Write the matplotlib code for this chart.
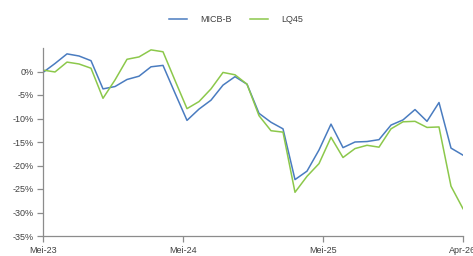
import numpy as np
from matplotlib import pyplot as plt

plt.rcParams['font.family'] = ['Liberation Sans', 'DejaVu Sans']

# monthly returns, Mei-23 .. Apr-26 (percent)
micb = [-0.2, 1.7, 3.75, 3.3, 2.3, -3.7, -3.2, -1.7, -1.0, 1.0, 1.3, -4.6,
        -10.4, -8.0, -6.1, -2.9, -1.1, -2.7, -8.9, -10.8, -12.2, -23.0, -21.2, -16.7,
        -11.2, -16.2, -15.0, -14.9, -14.5, -11.4, -10.3, -8.1, -10.6, -6.6, -16.3, -17.8]
lq45 = [0.3, -0.1, 2.0, 1.6, 0.7, -5.7, -1.8, 2.6, 3.1, 4.6, 4.2, -1.9,
        -7.9, -6.4, -3.7, -0.2, -0.7, -2.7, -9.4, -12.6, -12.9, -25.7, -22.3, -19.6,
        -14.0, -18.3, -16.4, -15.7, -16.1, -12.2, -10.7, -10.6, -11.9, -11.8, -24.4, -29.2]
xlabels = ['Mei-23', 'Mei-24', 'Mei-25', 'Apr-26']
yticks = [0, -5, -10, -15, -20, -25, -30, -35]

x = np.arange(len(micb))

fig = plt.figure(figsize=(4.73, 2.56), dpi=100)
ax = fig.add_axes([43/473, 20/256, 420/473, 188/256])

ax.plot(x, micb, color='#4a7cc0', lw=1.1, label='MICB-B')
ax.plot(x, lq45, color='#8cc84b', lw=1.1, label='LQ45')

ax.set_xlim(0, len(micb) - 1)
ax.set_ylim(-35, 5)
ax.set_xticks(np.linspace(0, len(micb) - 1, 4))
ax.set_xticklabels(xlabels)
ax.set_yticks(yticks)
ax.set_yticklabels(['%d%%' % v for v in yticks])

for s in ['top', 'right']:
    ax.spines[s].set_visible(False)
for s in ['left', 'bottom']:
    ax.spines[s].set_color('#8c8c8c')
    ax.spines[s].set_linewidth(0.9)
ax.tick_params(axis='both', direction='out', length=4, width=0.9, color='#8c8c8c',
               labelsize=6.5, labelcolor='#404040')
ax.tick_params(axis='x', pad=3)
ax.tick_params(axis='y', pad=3)

fig.legend(loc='center', bbox_to_anchor=(236/473, 1 - 20/256), ncol=2, frameon=False,
           fontsize=6.5, handlelength=2.0, handletextpad=1.4, columnspacing=2.1,
           labelcolor='#404040')

plt.savefig('out.png', dpi=100)
